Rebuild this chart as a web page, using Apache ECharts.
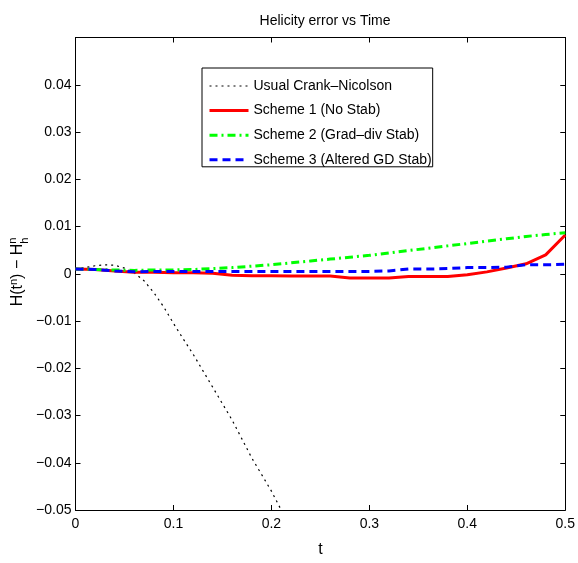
<!DOCTYPE html>
<html>
<head>
<meta charset="utf-8">
<script src="https://cdn.jsdelivr.net/npm/echarts@6/dist/echarts.min.js"></script>
<style>html,body{margin:0;padding:0;background:#fff;}#c{width:578px;height:563px;}</style>
</head>
<body>
<div id="c"></div>
<script>
// Data
var cnTime = [0,0.01,0.02,0.03,0.04,0.05,0.06,0.07,0.08,0.09,0.10,0.11,0.12,0.13,0.14,0.15,0.16,0.17,0.18,0.19,0.20,0.21,0.22];
var crankNicolson = [0.0010,0.0013,0.0017,0.0019,0.0018,0.0012,0.0002,-0.0015,-0.0040,-0.0070,-0.0105,-0.0138,-0.0170,-0.0205,-0.0240,-0.0275,-0.0310,-0.0350,-0.0390,-0.0425,-0.0460,-0.0500,-0.0540];
var schemeTime = [0,0.02,0.04,0.06,0.08,0.10,0.12,0.14,0.16,0.18,0.20,0.22,0.24,0.26,0.28,0.30,0.32,0.34,0.36,0.38,0.40,0.42,0.44,0.46,0.48,0.50];
var scheme1 = [0.0010,0.0009,0.0006,0.0003,0.0003,0.0002,0.0002,0.0001,-0.0003,-0.0004,-0.0004,-0.0005,-0.0005,-0.0005,-0.0009,-0.0009,-0.0009,-0.0006,-0.0006,-0.0006,-0.0002,0.0004,0.0012,0.0021,0.0040,0.0082];
var scheme2 = [0.0010,0.0009,0.0008,0.0007,0.0008,0.0008,0.0009,0.0011,0.0013,0.0016,0.0019,0.0023,0.0027,0.0031,0.0035,0.0039,0.0044,0.0049,0.0054,0.0059,0.0064,0.0069,0.0074,0.0079,0.0083,0.0087];
var scheme3 = [0.0010,0.0009,0.0006,0.0004,0.0005,0.0005,0.0005,0.0005,0.0005,0.0005,0.0005,0.0005,0.0005,0.0005,0.0005,0.0005,0.0006,0.0010,0.0010,0.0011,0.0013,0.0013,0.0014,0.0019,0.0019,0.0020];
var seriesNames = ['Usual Crank\u2013Nicolson','Scheme 1 (No Stab)','Scheme 2 (Grad\u2013div Stab)','Scheme 3 (Altered GD Stab)'];
var xTicks = [0,0.1,0.2,0.3,0.4,0.5];
var yMin = -0.05, yMax = 0.05, yStep = 0.01;

function pairs(t, v){ return t.map(function(x,i){ return [x, v[i]]; }); }
var FONT = '"Liberation Sans", Arial, Helvetica, sans-serif';
var FS = 14;

function fmtY(v){
  if (v > 0.045) return '';
  var r = Math.round(v*100)/100;
  if (r === 0) return '0';
  var s = Math.abs(r).toFixed(2);
  return (r < 0 ? '\u2212' : '') + s;
}
function fmtX(v){
  var r = Math.round(v*10)/10;
  return r === 0 ? '0' : String(r);
}

// y-axis label pieces measured with canvas
var ctx = document.createElement('canvas').getContext('2d');
function w(txt, size){ ctx.font = size + 'px ' + FONT; return ctx.measureText(txt).width; }
var big = 16, small = 11;
var p1 = 'H(t', p2 = 'n', p3 = ') \u2212 H', p4 = 'n', p5 = 'h';
var total = w(p1,big) + w(p2,small) + w(p3,big) + Math.max(w(p4,small), w(p5,small));
var x0 = -total/2;
var labelChildren = [];
var cx = x0;
labelChildren.push({type:'text', x:cx, y:0, style:{text:p1, font:big+'px '+FONT, fill:'#000', textVerticalAlign:'bottom'}});
cx += w(p1,big);
labelChildren.push({type:'text', x:cx, y:-7, style:{text:p2, font:small+'px '+FONT, fill:'#000', textVerticalAlign:'bottom'}});
cx += w(p2,small);
labelChildren.push({type:'text', x:cx, y:0, style:{text:p3, font:big+'px '+FONT, fill:'#000', textVerticalAlign:'bottom'}});
cx += w(p3,big);
labelChildren.push({type:'text', x:cx, y:-8, style:{text:p4, font:small+'px '+FONT, fill:'#000', textVerticalAlign:'bottom'}});
labelChildren.push({type:'text', x:cx, y:4, style:{text:p5, font:small+'px '+FONT, fill:'#000', textVerticalAlign:'bottom'}});

var chart = echarts.init(document.getElementById('c'), null, {renderer:'canvas'});
var axisCommon = {
  min: 0, max: 0.5, interval: 0.1,
  axisLine: {show:true, onZero:false, lineStyle:{color:'#000', width:1}},
  axisTick: {show:true, inside:true, length:5, lineStyle:{color:'#000'}},
  splitLine: {show:false}
};
var legendWidths = [1, 3, 3, 3];
var option = {
  animation: false,
  backgroundColor: '#fff',
  title: {
    text: 'Helicity error vs Time',
    left: 320, top: 9, textAlign: 'center',
    textStyle: {fontFamily: FONT, fontSize: 14, fontWeight: 'normal', color: '#000'}
  },
  grid: {left: 75.5, right: 11.5, top: 37.5, bottom: 53, containLabel: false},
  legend: {
    orient: 'vertical',
    left: 202, top: 68,
    padding: [11, 1, 0, 6],
    itemWidth: 39, itemHeight: 14, itemGap: 10.6,
    borderColor: '#000', borderWidth: 1, backgroundColor: '#fff',
    itemStyle: {opacity: 0},
    textStyle: {fontFamily: FONT, fontSize: FS, color: '#000', padding:[0,0,0,0]},
    data: seriesNames.map(function(n, i){ return {name: n, lineStyle: {width: legendWidths[i]}}; })
  },
  xAxis: [
    Object.assign({}, axisCommon, {
      type: 'value', position: 'bottom',
      name: 't', nameLocation: 'middle', nameGap: 32,
      nameTextStyle: {fontFamily: FONT, fontSize: 16, color:'#000'},
      axisLabel: {show:true, margin: 7, fontFamily: FONT, fontSize: FS, color:'#000', formatter: fmtX}
    }),
    Object.assign({}, axisCommon, {type:'value', position:'top', axisLabel:{show:false}})
  ],
  yAxis: [
    {
      type: 'value', position: 'left', min: yMin, max: yMax, interval: yStep,
      axisLine: {show:true, onZero:false, lineStyle:{color:'#000', width:1}},
      axisTick: {show:true, inside:true, length:5, lineStyle:{color:'#000'}},
      splitLine: {show:false},
      axisLabel: {show:true, margin: 4, fontFamily: FONT, fontSize: FS, color:'#000', formatter: fmtY}
    },
    {
      type: 'value', position: 'right', min: yMin, max: yMax, interval: yStep,
      axisLine: {show:true, onZero:false, lineStyle:{color:'#000', width:1}},
      axisTick: {show:true, inside:true, length:5, lineStyle:{color:'#000'}},
      splitLine: {show:false},
      axisLabel: {show:false}
    }
  ],
  graphic: [
    {type:'group', x: 26, y: 272, rotation: Math.PI/2, children: labelChildren}
  ],
  series: [
    {
      name: seriesNames[0], type: 'line', symbol: 'none', clip: true,
      data: pairs(cnTime, crankNicolson),
      lineStyle: {color:'#000', width:1.2, type:[2,4]},
      itemStyle: {color:'#000'}
    },
    {
      name: seriesNames[1], type: 'line', symbol: 'none', clip: true,
      data: pairs(schemeTime, scheme1),
      lineStyle: {color:'#ff0000', width:3, type:'solid'},
      itemStyle: {color:'#ff0000'}
    },
    {
      name: seriesNames[2], type: 'line', symbol: 'none', clip: true,
      data: pairs(schemeTime, scheme2),
      lineStyle: {color:'#00ff00', width:3, type:[8,4,2,4]},
      itemStyle: {color:'#00ff00'}
    },
    {
      name: seriesNames[3], type: 'line', symbol: 'none', clip: true,
      data: pairs(schemeTime, scheme3),
      lineStyle: {color:'#0000ff', width:3, type:[8,5]},
      itemStyle: {color:'#0000ff'}
    }
  ]
};
chart.setOption(option);
</script>
</body>
</html>
